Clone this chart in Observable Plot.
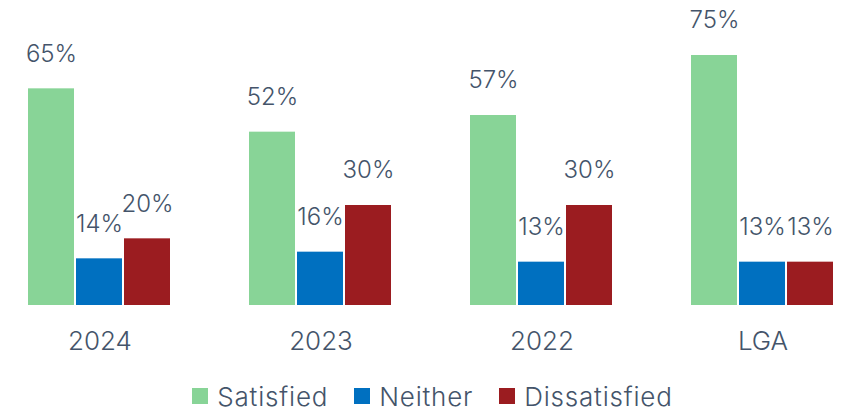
<!DOCTYPE html>
<html>
<head>
<meta charset="utf-8">
<script src="https://cdn.jsdelivr.net/npm/d3@7"></script>
<script src="https://cdn.jsdelivr.net/npm/@observablehq/plot@0.6"></script>
<style>
  html, body { margin: 0; padding: 0; background: #fff; }
  body { width: 851px; height: 412px; overflow: hidden; font-family: Inter, sans-serif; }
  #legend { display: flex; justify-content: center; align-items: center; height: 52px; margin-top: 10px; margin-left: 14px;
    font-size: 26px; font-weight: 300; letter-spacing: 0.8px; color: #44546A; gap: 26px; }
  .item { display: flex; align-items: center; }
  .sw { width: 16px; height: 16px; margin-right: 9px; }
</style>
</head>
<body>
<div id="chart"></div>
<div id="legend"></div>
<script>
const groups = ["2024", "2023", "2022", "LGA"];
const series = ["Satisfied", "Neither", "Dissatisfied"];
const satisfied = [65, 52, 57, 75];
const neither = [14, 16, 13, 13];
const dissatisfied = [20, 30, 30, 13];
const colors = ["#88D497", "#0070C0", "#9B1C20"];

const values = [satisfied, neither, dissatisfied];
const data = [];
groups.forEach((g, i) => series.forEach((s, j) => data.push({group: g, series: s, value: values[j][i]})));

const chart = Plot.plot({
  width: 851,
  height: 360,
  marginLeft: 26,
  marginRight: 16,
  marginTop: 55,
  marginBottom: 55,
  style: {fontFamily: "Inter, sans-serif", color: "#44546A", background: "#fff"},
  fx: {domain: groups, paddingInner: 0.344, paddingOuter: 0, label: null},
  x: {domain: series, paddingInner: 0.04, paddingOuter: 0, axis: null},
  y: {domain: [0, 75], axis: null},
  color: {domain: series, range: colors},
  marks: [
    Plot.barY(data, {fx: "group", x: "series", y: "value", fill: "series"}),
    Plot.text(data, {fx: "group", x: "series", y: "value", text: d => d.value + "%",
      dy: -35, fontSize: 24, fontWeight: 300, fill: "#44546A"}),
    Plot.axisFx({anchor: "bottom", tickSize: 0, tickPadding: 26, fontSize: 26, fontWeight: 300, fill: "#44546A", label: null})
  ]
});
document.getElementById("chart").appendChild(chart);

const legend = document.getElementById("legend");
series.forEach((s, i) => {
  const it = document.createElement("div");
  it.className = "item";
  const sw = document.createElement("div");
  sw.className = "sw";
  sw.style.background = colors[i];
  const t = document.createElement("span");
  t.textContent = s;
  it.appendChild(sw);
  it.appendChild(t);
  legend.appendChild(it);
});
</script>
</body>
</html>
